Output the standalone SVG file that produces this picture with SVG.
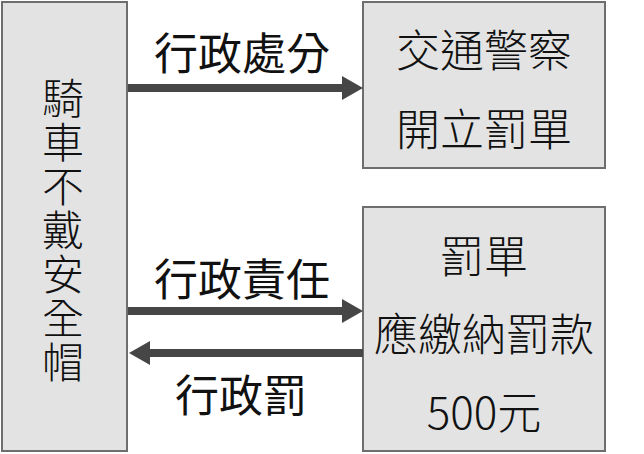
<svg xmlns="http://www.w3.org/2000/svg" width="644" height="454" viewBox="0 0 644 454">
<defs>
<style>
.box{fill:#e3e3e3;stroke:#6e6e6e;stroke-width:2}
.bt{font-family:"Noto Sans CJK TC","Noto Sans CJK SC",sans-serif;font-size:44px;font-weight:300;fill:#111;text-anchor:middle;dominant-baseline:central}
.vt{font-family:"Noto Sans CJK TC","Noto Sans CJK SC",sans-serif;font-size:42px;font-weight:300;fill:#111;writing-mode:vertical-rl;text-anchor:middle;letter-spacing:2px}
.lb{font-family:"Noto Sans CJK TC","Noto Sans CJK SC",sans-serif;font-size:44px;font-weight:400;fill:#111;text-anchor:middle;dominant-baseline:central}
.ln{stroke:#464646;stroke-width:8;fill:none}
.ah{fill:#464646}
</style>
</defs>
<rect width="644" height="454" fill="#fff"/>
<g id="left">
<rect class="box" x="2" y="2" width="125" height="449"/>
<text class="vt" x="63" y="231">騎車不戴安全帽</text>
</g>
<g id="police">
<rect class="box" x="363" y="2" width="242" height="166"/>
<text class="bt" x="484" y="48">交通警察</text>
<text class="bt" x="484" y="127">開立罰單</text>
</g>
<g id="fine">
<rect class="box" x="363" y="207" width="242" height="244"/>
<text class="bt" x="484" y="254">罰單</text>
<text class="bt" x="484" y="332">應繳納罰款</text>
<text class="bt" x="484" y="410">500元</text>
</g>
<g id="connectors">
<line class="ln" x1="128" y1="88" x2="344" y2="88"/>
<polygon class="ah" points="342,76 363,88 342,100"/>
<line class="ln" x1="128" y1="311" x2="344" y2="311"/>
<polygon class="ah" points="342,299 363,311 342,323"/>
<line class="ln" x1="363" y1="353" x2="148" y2="353"/>
<polygon class="ah" points="150,341 129,353 150,365"/>
<text class="lb" x="242" y="51">行政處分</text>
<text class="lb" x="242" y="277">行政責任</text>
<text class="lb" x="241" y="393">行政罰</text>
</g>
</svg>
